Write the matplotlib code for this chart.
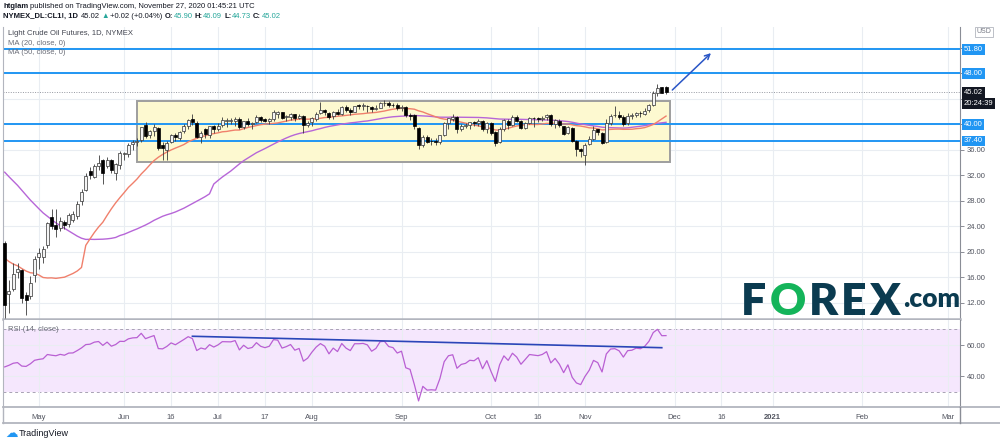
import numpy as np
import pandas as pd
import matplotlib
matplotlib.use("Agg")
import matplotlib.pyplot as plt
from matplotlib.patches import Rectangle
from matplotlib.lines import Line2D

plt.rcParams['font.family'] = ['Liberation Sans', 'DejaVu Sans']

# ---------- data ----------
# closes before the visible window (Feb 10 .. Apr 20 2020), only used for MA / RSI warm-up
warmup_close = [49.57, 49.94, 51.17, 51.42, 52.05, 52.05, 53.29, 53.78, 53.38, 51.43, 49.90, 48.73, 47.09, 44.76,
                46.75, 47.18, 46.78, 45.90, 41.28, 31.13, 34.36, 32.98, 31.50, 31.73, 28.70, 26.95, 20.37, 25.22,
                22.43, 23.36, 24.01, 24.49, 22.60, 21.51, 20.09, 20.48,
                20.31, 25.32, 28.34, 26.08, 23.63, 25.09, 22.76, 22.41, 20.11, 19.87, 19.87, 18.27, -37.63]

# visible daily bars, Apr 21 .. Nov 27 2020
opens = [21.3, 13.3, 14.2, 16.8, 17.1, 13.2, 13.1, 16.4,
         19.2, 19.2, 21.1, 25.4, 24.2, 23.7, 24.6, 24.3, 25.0, 25.6, 27.9, 29.7, 32.6, 31.8, 33.5, 34.4, 33.4, 34.4, 32.4, 33.6,
         35.3, 35.3, 36.9, 37.2, 37.5, 39.9, 38.3, 38.9, 39.4, 36.8, 36.0, 37.3, 38.4, 37.9, 38.9, 39.8, 40.9, 40.2, 38.0, 39.2, 38.3, 39.7,
         39.3, 39.9, 40.6, 40.6, 40.6, 40.9, 39.6, 40.6, 40.0, 40.3, 41.2, 40.8, 40.6, 40.8, 41.6, 41.9, 41.1, 41.2, 41.6, 41.0, 41.3, 39.9,
         40.3, 40.9, 41.8, 42.2, 41.8, 41.3, 42.0, 41.6, 42.7, 42.2, 42.0, 42.9, 42.9, 42.9, 42.8, 42.4, 42.6, 43.3, 43.4, 43.0, 43.0,
         42.6, 42.8, 41.5, 41.4, 39.4, 36.8, 38.0, 37.4, 37.3, 37.3, 38.3, 40.2, 40.9, 41.1, 39.3, 39.8, 39.9, 40.3, 40.2, 40.6, 39.3,
         40.2, 38.8, 37.3, 39.3, 40.6, 39.9, 41.2, 40.6, 39.4, 40.2, 41.0, 40.9, 40.8, 41.1, 41.4, 40.0, 40.6, 39.7, 38.6, 39.5, 37.4, 36.1,
         35.2, 36.9, 37.7, 39.2, 38.7, 37.3, 40.2, 41.4, 41.5, 41.1, 40.2, 41.3, 41.4, 41.8, 41.7, 42.3, 43.0, 44.9, 45.8, 45.90]
highs = [21.6, 15.5, 18.2, 18.2, 17.2, 13.7, 16.1, 19.3,
         20.5, 20.9, 24.7, 26.7, 26.7, 25.4, 25.0, 26.1, 26.4, 27.9, 29.8, 32.4, 33.3, 33.7, 35.2, 34.6, 34.9, 34.6, 33.9, 35.8,
         35.7, 37.0, 37.6, 37.9, 39.6, 40.4, 39.1, 40.1, 39.6, 37.2, 37.4, 38.5, 38.6, 39.0, 40.0, 40.8, 41.6, 40.5, 38.9, 39.4, 39.8, 39.9,
         40.2, 41.1, 41.0, 41.0, 41.1, 41.1, 40.6, 41.0, 40.4, 41.5, 41.3, 41.0, 41.0, 42.3, 42.1, 42.0, 41.5, 41.8, 41.7, 41.6, 41.5, 40.5,
         41.2, 41.9, 43.5, 42.4, 42.0, 42.1, 42.4, 42.9, 43.0, 42.5, 42.9, 43.2, 43.4, 43.1, 42.9, 43.0, 43.5, 43.8, 43.6, 43.3, 43.3,
         43.1, 42.9, 41.8, 41.6, 39.6, 38.4, 38.3, 37.9, 37.8, 38.4, 40.3, 41.0, 41.6, 41.3, 40.1, 40.2, 40.4, 40.5, 40.9, 40.7, 40.4,
         40.3, 38.9, 39.6, 40.9, 40.8, 41.4, 41.4, 40.7, 40.4, 41.2, 41.1, 41.1, 41.3, 41.7, 41.6, 40.8, 40.8, 39.8, 39.8, 39.6, 37.5, 36.3,
         37.0, 38.2, 39.7, 39.2, 38.8, 40.8, 41.6, 42.9, 42.1, 41.4, 41.8, 41.8, 42.0, 42.1, 42.5, 43.2, 45.2, 46.3, 45.9, 46.09]
lows = [9.5, 10.4, 13.8, 15.9, 11.9, 10.1, 12.5, 15.2,
        17.3, 18.2, 20.6, 23.6, 22.3, 23.3, 23.6, 23.9, 24.6, 25.2, 27.4, 29.6, 31.4, 31.6, 32.9, 30.7, 33.1, 32.3, 31.3, 33.0,
        34.4, 34.9, 36.0, 36.6, 37.3, 37.8, 37.9, 38.2, 35.9, 34.4, 34.4, 37.0, 37.4, 37.5, 38.6, 39.2, 39.9, 37.8, 37.1, 37.9, 37.9, 38.7,
        38.9, 39.6, 39.6, 40.1, 39.8, 39.3, 39.3, 39.8, 39.2, 40.2, 40.3, 40.3, 40.1, 40.6, 41.0, 40.8, 40.6, 40.7, 40.6, 40.8, 38.7, 39.6,
        39.8, 40.6, 41.6, 41.5, 40.8, 40.9, 41.5, 41.5, 41.9, 41.5, 41.9, 42.4, 42.2, 41.9, 41.9, 42.3, 42.5, 42.9, 42.7, 42.7, 42.3,
        42.1, 41.2, 40.7, 39.3, 36.1, 36.4, 37.0, 36.8, 36.8, 36.9, 38.1, 39.3, 40.5, 38.6, 38.9, 39.4, 39.2, 39.8, 39.8, 38.9, 38.7,
        38.4, 36.6, 37.0, 38.9, 39.3, 39.8, 40.3, 39.2, 39.3, 40.0, 39.6, 40.3, 40.5, 40.7, 39.8, 39.4, 39.6, 38.3, 38.5, 37.2, 35.0, 34.9,
        33.6, 36.7, 37.5, 38.3, 36.9, 37.1, 39.9, 41.1, 40.8, 39.8, 39.9, 40.8, 41.1, 41.1, 41.4, 41.9, 42.9, 44.4, 44.9, 44.73]
closes = [11.57, 13.78, 16.50, 17.30, 12.78, 12.34, 15.06, 18.84,
          19.78, 20.39, 24.56, 23.99, 23.55, 24.74, 24.14, 25.78, 25.90, 27.56, 29.43, 31.82, 32.10, 33.49, 33.92, 32.40, 34.35, 32.81, 33.71, 35.49,
          35.44, 36.81, 37.29, 37.41, 39.55, 38.19, 38.94, 39.60, 36.34, 36.26, 37.12, 38.38, 37.96, 38.84, 39.75, 40.73, 40.37, 38.01, 38.72, 38.49, 39.70, 39.27,
          39.82, 40.65, 40.63, 40.62, 40.90, 39.62, 40.55, 40.10, 40.29, 41.20, 40.75, 40.59, 40.81, 41.96, 41.90, 41.07, 41.29, 41.60, 41.04, 41.27, 39.92, 40.27,
          41.01, 41.70, 42.19, 41.95, 41.22, 41.94, 41.61, 42.67, 42.24, 42.01, 42.89, 42.89, 42.93, 42.82, 42.34, 42.62, 43.35, 43.39, 43.04, 42.97, 42.61,
          42.76, 41.51, 41.37, 39.77, 36.76, 38.05, 37.30, 37.33, 37.26, 38.28, 40.16, 40.97, 41.11, 39.31, 39.80, 39.93, 40.31, 40.25, 40.60, 39.29, 40.22,
          38.72, 37.05, 39.22, 40.67, 39.95, 41.19, 40.60, 39.43, 40.20, 41.04, 40.96, 40.88, 41.06, 41.46, 40.03, 40.64, 39.85, 38.56, 39.57, 37.39, 36.17, 35.79,
          36.81, 37.66, 39.15, 38.79, 37.14, 40.29, 41.36, 41.45, 41.12, 40.13, 41.34, 41.43, 41.82, 41.74, 42.15, 43.06, 44.91, 45.71, 45.00, 45.02]

holidays = ["2020-05-25", "2020-07-03", "2020-09-07"]
levels = [51.80, 48.00, 40.00, 37.40]
last_price = 45.02
countdown = "20:24:39"
zone = ("2020-06-04", "2020-11-30", 34.1, 43.7)
arrow_from = ("2020-11-30", 45.1)
arrow_to = ("2020-12-14", 51.5)
rsi_trend = [("2020-06-23", 65.6), ("2020-11-26", 58.3)]

price_ticks = [12, 16, 20, 24, 28, 32, 36, 40, 44, 48, 52]
tick_dates = ["2020-05-01", "2020-06-01", "2020-06-16", "2020-07-01", "2020-07-17", "2020-08-03",
              "2020-09-01", "2020-10-01", "2020-10-16", "2020-11-02", "2020-12-01", "2020-12-16",
              "2021-01-01", "2021-02-01", "2021-03-01"]
tick_labels = ["May", "Jun", "16", "Jul", "17", "Aug", "Sep", "Oct", "16", "Nov", "Dec", "16", "2021", "Feb", "Mar"]

# ---------- index ----------
bars = pd.bdate_range("2020-04-21", "2020-11-27").drop(pd.to_datetime(holidays))
dates = bars.append(pd.bdate_range("2020-11-30", "2021-03-12"))
assert len(bars) == len(closes) == len(opens) == len(highs) == len(lows)

def pos(d):
    return dates.get_loc(pd.Timestamp(d))

nw = len(warmup_close)
s = pd.Series(warmup_close + closes)
ma20 = s.rolling(20).mean().iloc[nw:].values
ma50 = s.rolling(50).mean().iloc[nw:].values
delta = s.diff()
ag = delta.clip(lower=0).ewm(alpha=1 / 14, adjust=False).mean()
al = (-delta.clip(upper=0)).ewm(alpha=1 / 14, adjust=False).mean()
rsi = (100 - 100 / (1 + ag / al)).iloc[nw:].values

x = np.arange(len(closes))
o, h, l, c = map(np.array, (opens, highs, lows, closes))
up = c >= o

TXT = '#50535e'
GRID = '#e9edf2'
BLUE = '#2196f3'
TEAL = '#26a69a'
FS = 5.5

fig = plt.figure(figsize=(10, 4.44), dpi=100)
ax = fig.add_axes([0.003, 1 - 319 / 444, 0.957, 292 / 444])
ar = fig.add_axes([0.003, 1 - 407 / 444, 0.957, 87 / 444])

xlim = (-0.4, 223.9)
tpos = [pos(d) for d in tick_dates]

# ---------- price pane ----------
ax.set_xlim(*xlim)
ax.set_ylim(9.42, 55.3)
ax.set_xticks(tpos)
ax.tick_params(axis='x', length=0, labelbottom=False)
ax.yaxis.tick_right()
ax.set_yticks(price_ticks)
ax.set_yticklabels([f"{t:.2f}" if t < 40 else "" for t in price_ticks])
ax.tick_params(axis='y', length=3, width=0.6, color='#787b86', labelsize=FS, labelcolor=TXT, pad=2)
ax.grid(True, color=GRID, lw=0.8, zorder=0)
ax.set_axisbelow(True)
ax.spines['top'].set_visible(False)
ax.spines['left'].set_color('#b2b5be')
ax.spines['right'].set_color('#8a8d96')
ax.spines['bottom'].set_color('#b2b5be')
ax.spines['bottom'].set_linewidth(1.8)

z0, z1, zlo, zhi = zone
ax.add_patch(Rectangle((pos(z0), zlo), pos(z1) - pos(z0), zhi - zlo,
                       facecolor='#fdf9d0', edgecolor='#9e9e9e', lw=1.4, zorder=1))
for lv in levels:
    ax.axhline(lv, color=BLUE, lw=1.4, zorder=2)
ax.axhline(last_price, color='#9598a1', lw=0.7, ls=(0, (1, 1.5)), zorder=2)

ax.plot(x, ma50, color='#b766d8', lw=1.0, zorder=3)
ax.plot(x, ma20, color='#f0806c', lw=1.0, zorder=3)

ax.vlines(x, l, h, color='#3a3a3a', lw=0.6, zorder=4)
body = np.maximum(np.abs(c - o), 0.1)
bot = np.minimum(o, c)
ax.bar(x[up], body[up], bottom=bot[up], width=0.7, color='#f4f4f4', edgecolor='#333333', lw=0.5, zorder=5)
ax.bar(x[~up], body[~up], bottom=bot[~up], width=0.7, color='black', edgecolor='black', lw=0.5, zorder=5)

ax.annotate('', xy=(pos(arrow_to[0]), arrow_to[1]), xytext=(pos(arrow_from[0]), arrow_from[1]),
            arrowprops=dict(arrowstyle='->', color='#2a56c6', lw=1.1, mutation_scale=9), zorder=6)

# right axis labels
tr = ax.get_yaxis_transform()
for lv in levels:
    ax.text(1.004, lv, f"{lv:.2f}", transform=tr, fontsize=FS, color='white', va='center', ha='left',
            bbox=dict(boxstyle='square,pad=0.25', fc=BLUE, ec='none'), clip_on=False, zorder=10)
ax.text(1.004, last_price, f"{last_price:.2f}", transform=tr, fontsize=FS, color='white', va='center', ha='left',
        bbox=dict(boxstyle='square,pad=0.25', fc='#131722', ec='none'), clip_on=False, zorder=10)
ax.annotate(countdown, xy=(1.004, last_price), xycoords=tr, xytext=(0, -8), textcoords='offset points',
            fontsize=FS, color='white', va='center', ha='left',
            bbox=dict(boxstyle='square,pad=0.25', fc='#131722', ec='none'), annotation_clip=False, zorder=10)
ax.text(1.017, 0.983, "USD", transform=ax.transAxes, fontsize=FS - 0.5, color='#787b86', va='center', ha='left',
        bbox=dict(boxstyle='square,pad=0.25', fc='white', ec='#b2b5be', lw=0.6), clip_on=False)

ax.text(0.005, 0.979, "Light Crude Oil Futures, 1D, NYMEX", transform=ax.transAxes, fontsize=FS,
        color='#434651', va='center')
ax.text(0.005, 0.945, "MA (20, close, 0)", transform=ax.transAxes, fontsize=FS, color='#6a6d78', va='center')
ax.text(0.005, 0.911, "MA (50, close, 0)", transform=ax.transAxes, fontsize=FS, color='#6a6d78', va='center')

# ---------- RSI pane ----------
ar.set_xlim(*xlim)
ar.set_ylim(20.4, 76)
ar.axhspan(30, 70, color='#f5e7fd', zorder=0, lw=0)
ar.axhline(70, color='#a8a2b4', lw=0.7, ls=(0, (3, 3)), zorder=1)
ar.axhline(30, color='#a8a2b4', lw=0.7, ls=(0, (3, 3)), zorder=1)
ar.set_xticks(tpos)
ar.set_xticklabels(tick_labels)
ar.tick_params(axis='x', length=0, labelsize=FS, labelcolor=TXT, pad=5)
for t in ar.get_xticklabels():
    if t.get_text() == '2021':
        t.set_fontweight('bold')
ar.yaxis.tick_right()
ar.set_yticks([40, 60])
ar.set_yticklabels(["40.00", "60.00"])
ar.tick_params(axis='y', length=3, width=0.6, color='#787b86', labelsize=FS, labelcolor=TXT, pad=2)
ar.grid(True, color=GRID, lw=0.8, zorder=0.5)
ar.spines['top'].set_visible(False)
ar.spines['left'].set_color('#b2b5be')
ar.spines['right'].set_color('#8a8d96')
ar.spines['bottom'].set_color('#b2b5be')
ar.spines['bottom'].set_linewidth(1.3)

ar.plot(x, rsi, color='#b95fd3', lw=0.9, zorder=3)
ar.plot([pos(d) for d, _ in rsi_trend], [v for _, v in rsi_trend], color='#2a45b8', lw=1.2, zorder=4)
ar.text(0.005, 0.89, "RSI (14, close)", transform=ar.transAxes, fontsize=FS, color='#6a6d78', va='center')

# ---------- frame ----------
def fline(x0, y0, x1, y1, **kw):
    fig.add_artist(Line2D([x0 / 1000, x1 / 1000], [1 - y0 / 444, 1 - y1 / 444], transform=fig.transFigure, **kw))

fline(3, 423, 1000, 423, color='#b2b5be', lw=1.3)
fline(960, 407, 1000, 407, color='#b2b5be', lw=1.3)
fline(960, 407, 960, 423, color='#8a8d96', lw=1)
fline(3, 407, 3, 423, color='#b2b5be', lw=1)

# ---------- header ----------
def chain(x0, y0, parts, size=FS, **kw):
    t = None
    for txt, col, wt, gap in parts:
        if t is None:
            t = fig.text(x0, y0, txt, color=col, fontweight=wt, fontsize=size, va='bottom', ha='left', **kw)
        else:
            t = ax.annotate(txt, xy=(1, 0), xycoords=t, xytext=(gap, 0), textcoords='offset points',
                            color=col, fontweight=wt, fontsize=size, va='bottom', ha='left',
                            annotation_clip=False, **kw)
    return t

DK = '#131722'
chain(0.003, 1 - 10 / 444, [("htglam", DK, 'bold', 0),
                            ("published on TradingView.com, November 27, 2020 01:45:21 UTC", DK, 'normal', 1.5)])
chain(0.003, 1 - 19.5 / 444, [("NYMEX_DL:CL1!, 1D", DK, 'bold', 0), ("45.02", DK, 'normal', 1.8),
                              ("▲", TEAL, 'normal', 1.2), ("+0.02 (+0.04%)", DK, 'normal', 1.2),
                              ("O:", DK, 'bold', 1.8), ("45.90", TEAL, 'normal', 0.2),
                              ("H:", DK, 'bold', 1.5), ("46.09", TEAL, 'normal', 0.2),
                              ("L:", DK, 'bold', 1.5), ("44.73", TEAL, 'normal', 0.2),
                              ("C:", DK, 'bold', 1.5), ("45.02", TEAL, 'normal', 0.2)])

# ---------- logos ----------
LOGO = '#0b3b50'
GREEN = '#14b45a'
chain(0.741, 1 - 322 / 444, [("F", LOGO, 'heavy', 0), ("O", GREEN, 'heavy', 2.2), ("R", LOGO, 'heavy', 2.2),
                             ("E", LOGO, 'heavy', 2.2), ("X", LOGO, 'heavy', 2.2)],
      size=32, family=['Lato', 'DejaVu Sans'])
fig.text(0.903, 1 - 307 / 444, ".com", fontsize=19, fontweight='heavy', family=['Lato', 'DejaVu Sans'],
         color=LOGO, va='baseline')

fig.text(0.005, 1 - 433 / 444, "☁", fontsize=9, color=BLUE, va='center', family=['DejaVu Sans'])
fig.text(0.019, 1 - 433 / 444, "TradingView", fontsize=6.5, color=DK, va='center')

fig.savefig("out.png", dpi=100)
